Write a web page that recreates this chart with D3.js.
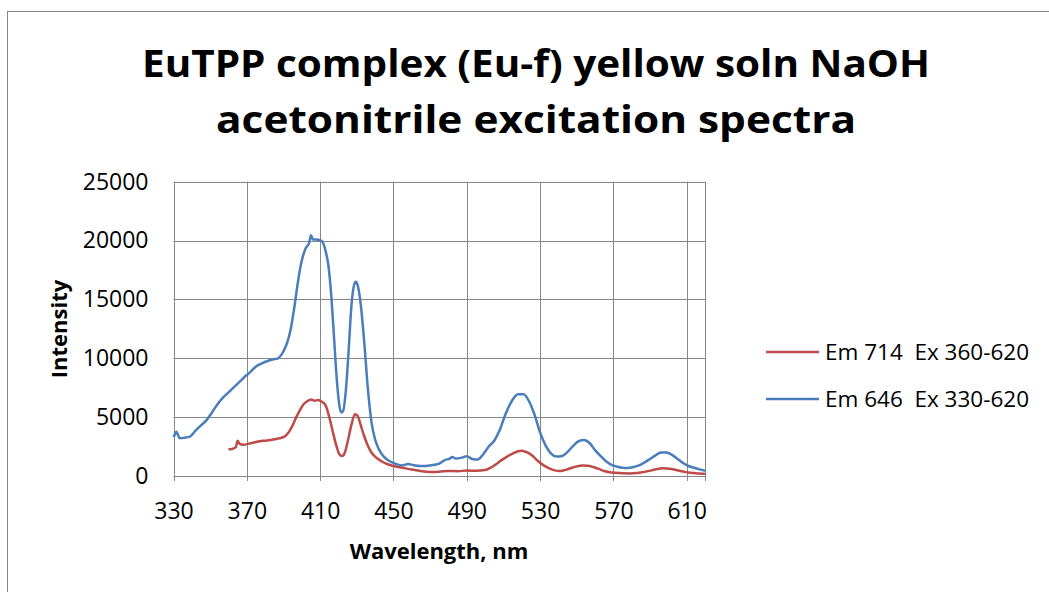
<!DOCTYPE html>
<html><head><meta charset="utf-8">
<script src="https://cdn.jsdelivr.net/npm/d3@7"></script>
<style>body{margin:0;background:#fff}svg{display:block}text{font-family:"Open Sans","Noto Sans",sans-serif;fill:#000}</style>
</head><body>
<svg id="c" width="1049" height="592"></svg>
<script>
const titleLines = ["EuTPP complex (Eu-f) yellow soln NaOH", "acetonitrile excitation spectra"];
const xTicks = [330, 370, 410, 450, 490, 530, 570, 610];
const yTicks = [0, 5000, 10000, 15000, 20000, 25000];
const seriesNames = ["Em 714  Ex 360-620", "Em 646  Ex 330-620"];
const seriesColors = ["#BE4B48", "#4A7EBB"];

const redNm = [360,362,364,365,366,368,371,374,377,380,383,386,389,391,393,395,397,399,401,403,405,407,409,411,413,415,417,419,420.5,422,423.5,425,427,429,430.5,432,434,436,438,440,443,446,450,455,460,465,470,475,480,485,490,495,500,503,506,509,512,515,518,520,523,526,529,532,535,538,541,544,547,550,553,556,559,562,565,568,571,575,579,583,587,591,594,597,600,603,606,609,612,616,620];
const redVal = [2270,2300,2450,3000,2750,2650,2750,2850,2950,3000,3050,3150,3250,3400,3750,4300,5000,5600,6100,6350,6500,6400,6450,6300,6000,5000,3700,2500,1850,1700,2000,2900,4300,5250,5100,4400,3400,2600,2000,1650,1300,1050,850,700,550,420,350,370,430,410,460,450,500,700,1000,1350,1650,1900,2100,2150,2000,1700,1250,900,650,480,430,520,680,820,900,880,760,600,420,320,270,230,220,260,350,480,600,660,620,560,450,350,280,220,170];

const blueNm = [330,331,331.5,333.5,336,339,342,345,348,351,354,357,360,363,366,369,372,375,378,381,384,387,390,392,394,396,398,400,402,404,405,406,408,411,413,414.5,416,417.5,419,420.5,421.5,422.5,424,425.5,427,428.5,429.5,430.5,432,434,436,438,440,442,445,448,451,455,458,461,465,470,475,478,481,482,484,487,490,493,496,499,502,505,508,511,513,516,518,521,524,527,530,533,536,539,542,545,548,551,554,557,560,563,566,569,572,575,578,581,584,587,590,593,596,599,602,605,608,611,614,617,620];
const blueVal = [3300,3600,3750,3200,3250,3350,3850,4300,4750,5400,6100,6650,7100,7550,8000,8450,8850,9300,9550,9750,9900,10000,10600,11300,12500,14400,16600,18300,19300,19800,20450,20100,20100,19950,19100,17900,15500,12000,8400,6000,5400,5500,7200,10500,14300,16200,16500,16200,14800,11500,7500,4600,3100,2300,1600,1250,1050,900,1020,920,850,900,1050,1350,1500,1620,1480,1550,1680,1450,1400,1850,2500,3000,3900,5200,5900,6700,6950,6950,6350,5200,3700,2600,1900,1650,1700,2050,2550,2950,3050,2800,2200,1700,1250,950,800,700,680,760,900,1150,1450,1750,2000,2000,1800,1450,1100,850,700,560,450];

const svg = d3.select("#c");
const m = {l:173.5, r:705, t:181.7, b:476};
const x = d3.scaleLinear().domain([330,620]).range([m.l, m.r]);
const y = d3.scaleLinear().domain([0,25000]).range([m.b, m.t]);

// outer border
svg.append("rect").attr("x",7.5).attr("y",11.5).attr("width",1100).attr("height",700)
  .attr("fill","#fff").attr("stroke","#868686").attr("stroke-width",1);

// title
const tw = [788, 640], tb = [76.5, 133];
titleLines.forEach((t,i)=>{
  svg.append("text").attr("x",536).attr("y",tb[i]).attr("text-anchor","middle")
    .attr("font-size",37).attr("font-weight","bold")
    .attr("textLength",tw[i]).attr("lengthAdjust","spacingAndGlyphs").text(t);
});

// gridlines
const g = svg.append("g");
g.selectAll(".hg").data(yTicks).join("line")
  .attr("x1",m.l).attr("x2",m.r).attr("y1",d=>Math.round(y(d))+0.5).attr("y2",d=>Math.round(y(d))+0.5)
  .attr("stroke","#878787").attr("stroke-width",1);
g.selectAll(".vg").data(xTicks).join("line")
  .attr("y1",m.t).attr("y2",m.b+5).attr("x1",d=>Math.round(x(d))+0.5).attr("x2",d=>Math.round(x(d))+0.5)
  .attr("stroke","#878787").attr("stroke-width",1);
g.append("line").attr("x1",Math.round(m.r)+0.5).attr("x2",Math.round(m.r)+0.5).attr("y1",m.t).attr("y2",m.b+5)
  .attr("stroke","#878787");

// axes (labels via d3 axis)
const xa = svg.append("g").attr("transform",`translate(0,${m.b})`)
  .call(d3.axisBottom(x).tickValues(xTicks).tickSize(0).tickPadding(27).tickFormat(d3.format("d")));
xa.select(".domain").remove();
xa.selectAll("text").attr("font-size",23).attr("font-family","Open Sans").attr("fill","#000");
const ya = svg.append("g").attr("transform",`translate(${m.l},0)`)
  .call(d3.axisLeft(y).tickValues(yTicks).tickSize(0).tickPadding(25).tickFormat(d3.format("d")));
ya.select(".domain").remove();
ya.selectAll("text").attr("font-size",23).attr("font-family","Open Sans").attr("fill","#000");

svg.append("text").attr("x",439).attr("y",559).attr("text-anchor","middle")
  .attr("font-size",22).attr("font-weight","bold").text("Wavelength, nm");
svg.append("text").attr("transform","translate(67,329) rotate(-90)").attr("text-anchor","middle")
  .attr("font-size",22).attr("font-weight","bold").text("Intensity");

// lines
const line = d3.line().x(d=>x(d[0])).y(d=>y(d[1])).curve(d3.curveMonotoneX);
const redData = redNm.map((n,i)=>[n, redVal[i]]);
const blueData = blueNm.map((n,i)=>[n, blueVal[i]]);
svg.append("path").datum(redData).attr("d",line).attr("fill","none").attr("stroke",seriesColors[0]).attr("stroke-width",2.5).attr("stroke-linejoin","round");
svg.append("path").datum(blueData).attr("d",line).attr("fill","none").attr("stroke",seriesColors[1]).attr("stroke-width",2.5).attr("stroke-linejoin","round");

// legend
const ly = [352, 399];
seriesNames.forEach((s,i)=>{
  svg.append("line").attr("x1",766).attr("x2",819).attr("y1",ly[i]).attr("y2",ly[i])
    .attr("stroke",seriesColors[i]).attr("stroke-width",2.5);
  svg.append("text").attr("x",825).attr("y",ly[i]+8).attr("font-size",22.5)
    .attr("xml:space","preserve").style("white-space","pre").text(s);
});
</script>
</body></html>
